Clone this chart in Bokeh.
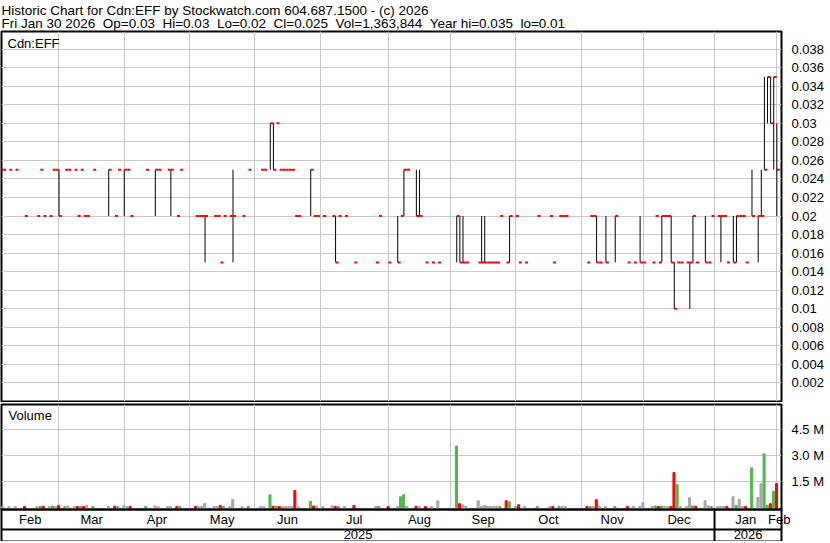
from bokeh.plotting import figure
from bokeh.layouts import column
from bokeh.models import (Range1d, FixedTicker, LinearAxis, Grid, Title, Label,
                          ColumnDataSource)
from bokeh.embed import file_html
from bokeh.resources import INLINE

# ---------------- data (trading-day index: 0 = 31 Jan 2025 ... 250 = 30 Jan 2026) -------------
day = [0, 1, 3, 5, 8, 12, 13, 14, 16, 17, 18, 19, 21, 22, 24, 25, 26, 27, 28, 30,
       35, 37, 38, 40, 41, 42, 47, 50, 51, 54, 55, 57, 58, 63, 64, 65, 66, 69, 70, 71,
       72, 74, 75, 78, 80, 84, 85, 87, 88, 89, 90, 91, 92, 93, 94, 95, 96, 100, 101, 102,
       104, 107, 108, 109, 111, 114, 121, 122, 125, 128, 129, 130, 131, 134, 135, 137, 139, 141,
       147, 148, 149, 150, 154, 155, 156, 157, 158, 159, 160, 161, 163, 164, 166, 167, 169,
       173, 177, 178, 180, 181, 182, 189, 190, 191, 192, 193, 195, 198, 202, 204, 206, 207,
       210, 211, 212, 213, 214, 215, 216, 217, 218, 219, 221, 222, 223, 224, 227, 228, 229,
       231, 232, 233, 234, 236, 237, 238, 239, 240, 242, 244, 245, 246, 247, 248, 249, 250]
high = [.025, .025, .025, .025, .02, .02, .025, .02, .02, .025, .025, .025, .025, .025, .025, .02, .025, .02, .02, .025,
        .025, .02, .025, .025, .025, .02, .025, .025, .025, .025, .025, .02, .025, .02, .02, .02, .02, .02, .02, .015,
        .02, .02, .025, .02, .025, .025, .025, .03, .03, .03, .025, .025, .025, .025, .025, .02, .02, .025, .02, .02,
        .02, .02, .02, .02, .02, .015, .015, .02, .015, .02, .02, .025, .025, .025, .025, .015, .015, .015,
        .02, .02, .02, .015, .015, .02, .02, .015, .015, .015, .015, .02, .015, .02, .02, .015, .015,
        .02, .02, .015, .02, .02, .02, .015, .02, .02, .02, .015, .02, .02, .015, .015, .02, .015,
        .015, .02, .015, .02, .02, .02, .02, .015, .015, .015, .015, .015, .02, .015, .02, .015, .02,
        .02, .02, .02, .015, .02, .02, .02, .02, .015, .025, .02, .025, .035, .035, .035, .035, .03]
low = [.025, .025, .025, .025, .02, .02, .025, .02, .02, .025, .025, .02, .025, .025, .025, .02, .025, .02, .02, .025,
       .02, .02, .025, .02, .025, .02, .025, .02, .025, .025, .02, .02, .025, .02, .02, .02, .015, .02, .02, .015,
       .02, .02, .015, .02, .025, .025, .025, .025, .025, .03, .025, .025, .025, .025, .025, .02, .02, .02, .02, .02,
       .02, .02, .015, .02, .02, .015, .015, .02, .015, .015, .02, .02, .025, .02, .02, .015, .015, .015,
       .015, .015, .015, .015, .015, .015, .015, .015, .015, .015, .015, .02, .015, .015, .02, .015, .015,
       .02, .02, .015, .02, .02, .02, .015, .02, .02, .015, .015, .015, .015, .015, .015, .015, .015,
       .015, .02, .015, .015, .02, .02, .015, .01, .015, .015, .015, .01, .015, .015, .015, .015, .02,
       .02, .015, .02, .015, .015, .015, .02, .02, .015, .02, .015, .02, .025, .03, .03, .025, .02]
close = [.025, .025, .025, .025, .02, .02, .025, .02, .02, .025, .025, .02, .025, .025, .025, .02, .025, .02, .02, .025,
         .025, .02, .025, .025, .025, .02, .025, .025, .025, .025, .025, .02, .025, .02, .02, .02, .02, .02, .02, .015,
         .02, .02, .02, .02, .025, .025, .025, .03, .025, .03, .025, .025, .025, .025, .025, .02, .02, .025, .02, .02,
         .02, .02, .015, .02, .02, .015, .015, .02, .015, .015, .02, .025, .025, .02, .02, .015, .015, .015,
         .02, .015, .015, .015, .015, .015, .015, .015, .015, .015, .015, .02, .015, .02, .02, .015, .015,
         .02, .02, .015, .02, .02, .02, .015, .02, .02, .015, .015, .015, .02, .015, .015, .015, .015,
         .015, .02, .015, .02, .02, .02, .015, .01, .015, .015, .015, .015, .02, .015, .015, .015, .02,
         .02, .02, .02, .015, .015, .02, .02, .02, .015, .02, .02, .02, .025, .035, .03, .035, .025]
volume = [20000, 20000, 20000, 20000, 30000, 20000, 30000, 40000, 20000, 50000, 20000, 90000, 30000, 50000, 20000, 30000, 20000, 30000, 80000, 30000,
          30000, 40000, 30000, 80000, 20000, 30000, 30000, 60000, 20000, 20000, 30000, 30000, 30000, 30000, 30000, 40000, 210000, 20000, 20000, 90000,
          30000, 20000, 440000, 20000, 30000, 20000, 20000, 710000, 40000, 50000, 30000, 20000, 20000, 20000, 20000, 960000, 20000, 320000, 50000, 60000,
          20000, 60000, 30000, 30000, 20000, 90000, 20000, 30000, 30000, 30000, 590000, 710000, 20000, 40000, 20000, 30000, 30000, 360000,
          3540000, 190000, 130000, 30000, 360000, 30000, 90000, 30000, 30000, 30000, 30000, 30000, 360000, 300000, 50000, 130000, 20000,
          30000, 20000, 30000, 30000, 30000, 30000, 30000, 30000, 30000, 420000, 60000, 20000, 30000, 30000, 30000, 30000, 250000,
          30000, 60000, 30000, 40000, 20000, 20000, 30000, 2000000, 1290000, 20000, 20000, 540000, 60000, 40000, 360000, 60000, 30000,
          20000, 30000, 20000, 30000, 590000, 90000, 440000, 30000, 30000, 2280000, 550000, 1360000, 3090000, 90000, 190000, 900000, 1363844]

# first trading day (index) of each month shown, and the month names
month_first = [0, 19, 40, 61, 82, 103, 125, 145, 166, 187, 207, 230, 250]
month_names = ["Feb", "Mar", "Apr", "May", "Jun", "Jul", "Aug", "Sep", "Oct", "Nov", "Dec", "Jan", "Feb"]
year_first = [0, 230]
year_names = ["2025", "2026"]

price_ticks = [round(0.002 * i, 3) for i in range(1, 20)]
vol_ticks = [1500000, 3000000, 4500000]
vol_tick_labels = ["1.5 M", "3.0 M", "4.5 M"]

GAP = " \u00a0"
title_line1 = "Historic Chart for Cdn:EFF by Stockwatch.com 604.687.1500 - (c) 2026"
title_line2 = GAP.join(["Fri Jan 30 2026", "Op=0.03", "Hi=0.03", "Lo=0.02", "Cl=0.025",
                        "Vol=1,363,844", "Year hi=0.035", "lo=0.01"])

# ---------------- styling ----------------
FONT = "Liberation Sans"
FS = "13px"
GRID = "#C8C8C8"
X0, X1 = 0.5, 251.5
FRAME_W = 780
PRICE_H = 370
VOL_H = 105
VOL_FLOOR = -150000
VOL_TOP = 5960000

xr = Range1d(X0, X1)


def base(y_range, frame_height, top, bottom):
    f = figure(output_backend="svg", toolbar_location=None, x_range=xr, y_range=y_range,
               frame_width=FRAME_W, frame_height=frame_height,
               min_border_left=1, min_border_right=49, min_border_top=top, min_border_bottom=bottom,
               x_axis_location=None, y_axis_location="right")
    f.outline_line_color = "black"
    f.outline_line_width = 2
    f.outline_line_alpha = 1
    f.background_fill_color = "white"
    f.border_fill_color = "white"
    ax = f.yaxis[0]
    ax.axis_line_color = None
    ax.major_tick_line_color = None
    ax.minor_tick_line_color = None
    ax.major_label_text_font = FONT
    ax.major_label_text_font_size = FS
    ax.major_label_text_color = "black"
    ax.major_label_standoff = 4
    f.center = [r for r in f.center if not (isinstance(r, Grid) and r.dimension == 0)]
    f.add_layout(Grid(dimension=0, ticker=FixedTicker(ticks=month_first[1:]),
                      grid_line_color=GRID, grid_line_width=1))
    f.ygrid.grid_line_color = GRID
    f.ygrid.grid_line_width = 1
    return f


# ---------------- price panel ----------------
p = base(Range1d(0.0, 0.0399), PRICE_H, 0, 1)
p.yaxis[0].ticker = FixedTicker(ticks=price_ticks)
p.yaxis[0].major_label_overrides = {t: f"{t:g}" for t in price_ticks}
p.ygrid.ticker = FixedTicker(ticks=price_ticks)

p.add_layout(Title(text=title_line1 + "\n" + title_line2, align="left", text_font=FONT,
                   text_font_size="13.5px", text_font_style="normal", text_color="black",
                   text_line_height=0.92, standoff=0, offset=0), "above")

rng = [i for i in range(len(day)) if high[i] > low[i]]
bars = ColumnDataSource(dict(x=[day[i] for i in rng], lo=[low[i] for i in rng], hi=[high[i] for i in rng]))
p.segment(x0="x", y0="lo", x1="x", y1="hi", source=bars, line_color="black", line_width=1)
ticks = ColumnDataSource(dict(x=day, x_end=[d + 0.95 for d in day], c=close))
p.segment(x0="x", y0="c", x1="x_end", y1="c", source=ticks, line_color="#FF0000", line_width=2)

p.add_layout(Label(x=X0, y=p.y_range.end, x_offset=6, y_offset=-4, text="Cdn:EFF",
                   text_font=FONT, text_font_size=FS, text_color="black", text_baseline="top"))

# ---------------- volume panel ----------------
v = base(Range1d(VOL_FLOOR, VOL_TOP), VOL_H, 2, 1)
v.yaxis[0].ticker = FixedTicker(ticks=vol_ticks)
v.yaxis[0].major_label_overrides = dict(zip(vol_ticks, vol_tick_labels))
v.ygrid.ticker = FixedTicker(ticks=vol_ticks)

vol_colors = []
prev = None
for c in close:
    if prev is None or c == prev:
        vol_colors.append("#A8A8A8")
    elif c > prev:
        vol_colors.append("#4DB849")
    else:
        vol_colors.append("#FF0000")
    prev = c
vsrc = ColumnDataSource(dict(x=[d - 0.1 for d in day], top=volume, color=vol_colors))
v.vbar(x="x", top="top", bottom=VOL_FLOOR, width=0.65, color="color", source=vsrc)

v.add_layout(Label(x=X0, y=v.y_range.end, x_offset=7, y_offset=-3, text="Volume",
                   text_font=FONT, text_font_size=FS, text_color="black", text_baseline="top"))

# month / year rows as axes below the volume panel
bounds = [max(m, X0) for m in month_first] + [X1]
month_mid = [(bounds[i] + bounds[i + 1]) / 2 for i in range(len(month_first))]
ybounds = [max(y, X0) for y in year_first] + [X1]
year_mid = [(ybounds[i] + ybounds[i + 1]) / 2 for i in range(len(year_first))]


def row_axis(tick_pos, labels, minor, standoff):
    a = LinearAxis(ticker=FixedTicker(ticks=tick_pos, minor_ticks=minor))
    a.major_label_overrides = dict(zip(tick_pos, labels))
    a.axis_line_color = "black"
    a.axis_line_width = 2
    a.major_tick_line_color = None
    a.major_tick_out = 0
    a.major_tick_in = 0
    a.minor_tick_line_color = "black"
    a.minor_tick_line_width = 2
    a.minor_tick_out = 0
    a.minor_tick_in = 0
    a.major_label_standoff = standoff
    a.major_label_text_font = FONT
    a.major_label_text_font_size = FS
    a.major_label_text_color = "black"
    return a


ma = row_axis(month_mid, month_names, [], 2)
v.add_layout(ma, "below")
ya2 = row_axis(year_mid, year_names, [], 0)
v.add_layout(ya2, "below")
end_axis = row_axis([], [], [X0, year_first[1], X1], 0)
end_axis.minor_tick_in = 33
v.add_layout(end_axis, "below")

layout = column(p, v, spacing=0)
open("out.html", "w").write(file_html(layout, INLINE))
